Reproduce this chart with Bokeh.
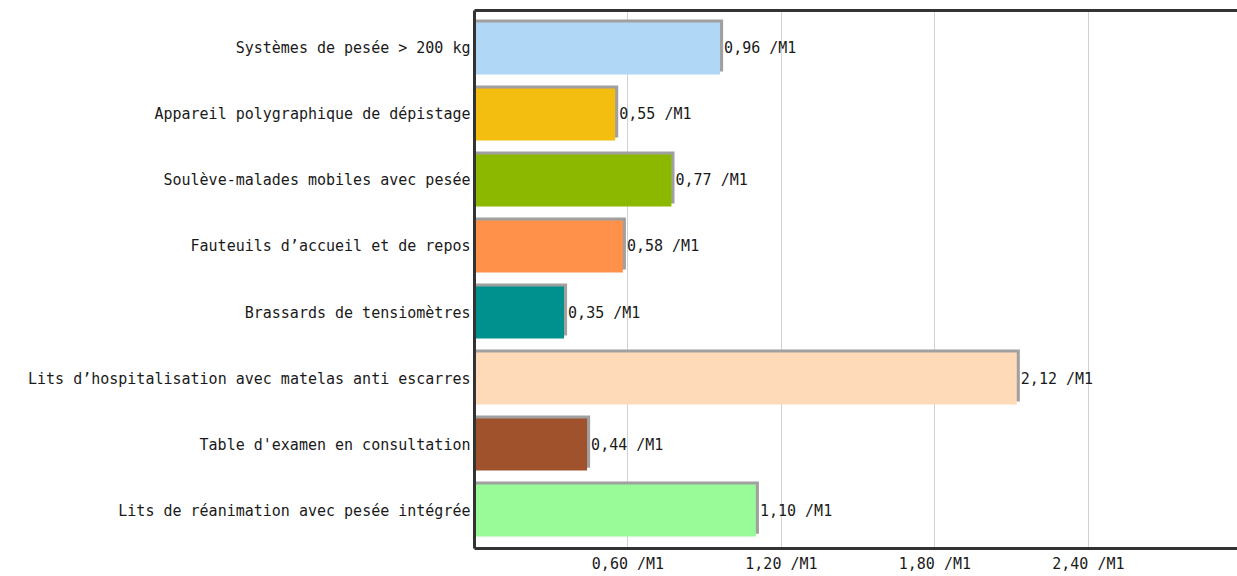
from bokeh.plotting import figure
from bokeh.models import FactorRange, Range1d, FixedTicker, ColumnDataSource, LinearAxis
from bokeh.transform import dodge
from bokeh.embed import file_html
from bokeh.resources import INLINE
from bokeh.core.properties import value

categories = [
    "Systèmes de pesée > 200 kg",
    "Appareil polygraphique de dépistage",
    "Soulève-malades mobiles avec pesée",
    "Fauteuils d’accueil et de repos",
    "Brassards de tensiomètres",
    "Lits d’hospitalisation avec matelas anti escarres",
    "Table d'examen en consultation",
    "Lits de réanimation avec pesée intégrée",
]
values = [0.96, 0.55, 0.77, 0.58, 0.35, 2.12, 0.44, 1.10]
colors = ["#B0D8F6", "#F4BE10", "#8CB800", "#FF914A", "#00918E", "#FFDAB9", "#A0522D", "#98FB98"]
tick_values = [0.6, 1.2, 1.8, 2.4]
tick_labels = ["0,60 /M1", "1,20 /M1", "1,80 /M1", "2,40 /M1"]
unit = " /M1"

FONT = "DejaVu Sans Mono"
FS = "15px"
TXT = "#1a1a1a"
X_MAX = 2.983
SHADOW_DX = 0.012
SHADOW_DY = 0.045
BAR_H = 0.79

labels = [f"{v:.2f}".replace(".", ",") + unit for v in values]
shadow_right = [v + SHADOW_DX for v in values]

src = ColumnDataSource(dict(cat=categories, val=values, color=colors,
                            label=labels, sright=shadow_right))

p = figure(
    width=1237, height=576,
    x_range=Range1d(0, X_MAX),
    y_range=FactorRange(factors=list(reversed(categories)),
                        range_padding=0.075, range_padding_units="absolute"),
    output_backend="svg", toolbar_location=None,
    min_border_left=474, min_border_right=0, min_border_top=10, min_border_bottom=28,
)
p.outline_line_color = None
p.background_fill_color = "white"
p.border_fill_color = "white"

# grid
p.xgrid.ticker = FixedTicker(ticks=tick_values)
p.xgrid.grid_line_color = "#D2D2D2"
p.xgrid.grid_line_width = 1
p.ygrid.grid_line_color = None

# shadow bars
p.hbar(y=dodge("cat", SHADOW_DY, range=p.y_range), left=0, right="sright",
       height=BAR_H, source=src, fill_color="#A0A0A0", line_color=None)
# bars
p.hbar(y="cat", left=0, right="val", height=BAR_H, source=src,
       fill_color="color", line_color=None)
# value labels
p.text(x="sright", y="cat", text="label", source=src, text_align="left",
       text_baseline="middle", text_font=value(FONT), text_font_size=FS,
       text_color=TXT, x_offset=1)

# x axis
xa = p.xaxis[0]
xa.ticker = FixedTicker(ticks=tick_values)
xa.major_label_overrides = {t: l for t, l in zip(tick_values, tick_labels)}
xa.major_tick_line_color = None
xa.minor_tick_line_color = None
xa.major_tick_out = 0
xa.minor_tick_out = 0
xa.major_label_standoff = 6
xa.axis_line_width = 3
xa.axis_line_color = "#333333"
xa.major_label_text_font = FONT
xa.major_label_text_font_size = FS
xa.major_label_text_color = TXT

# y axis
ya = p.yaxis[0]
ya.major_tick_line_color = None
ya.minor_tick_line_color = None
ya.major_tick_out = 0
ya.minor_tick_out = 0
ya.major_label_standoff = 4
ya.axis_line_width = 3
ya.axis_line_color = "#333333"
ya.major_label_text_font = FONT
ya.major_label_text_font_size = FS
ya.major_label_text_color = TXT

# top frame line
top = LinearAxis(ticker=FixedTicker(ticks=[]), major_label_text_font_size="0px",
                 major_tick_out=0, minor_tick_out=0, major_label_standoff=0,
                 axis_line_width=3, axis_line_color="#333333")
p.add_layout(top, "above")

open("out.html", "w").write(file_html(p, INLINE))
